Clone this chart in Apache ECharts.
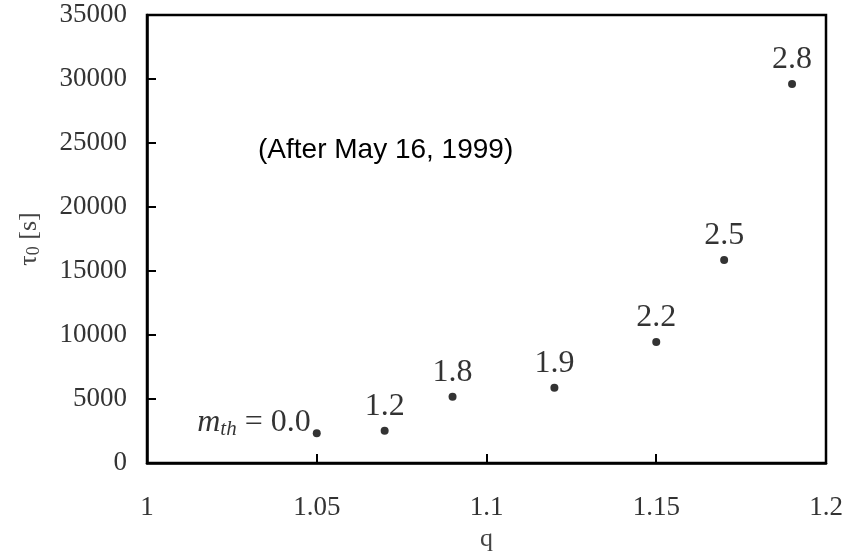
<!DOCTYPE html>
<html>
<head>
<meta charset="utf-8">
<script src="https://cdn.jsdelivr.net/npm/echarts@6/dist/echarts.min.js"></script>
<style>html,body{margin:0;padding:0;background:#fff;}#c{width:845px;height:555px;}</style>
</head>
<body>
<div id="c"></div>
<script>
const qValues = [1.05, 1.07, 1.09, 1.12, 1.15, 1.17, 1.19];
const tauValues = [2320, 2520, 5180, 5880, 9450, 15860, 29610];
const mthLabels = ['0.0', '1.2', '1.8', '1.9', '2.2', '2.5', '2.8'];
const xAxisRange = [1, 1.2, 0.05];
const yAxisRange = [0, 35000, 5000];
const noteText = '(After May 16, 1999)';

const serif = 'Liberation Serif';
const chart = echarts.init(document.getElementById('c'), null, {renderer: 'canvas'});

const data = qValues.map((q, i) => {
  const item = {value: [q, tauValues[i]]};
  if (i === 0) {
    item.label = {
      show: true,
      position: 'left',
      distance: 2,
      offset: [0, -11],
      formatter: '{m|m}{sub|th}{eq| = ' + mthLabels[i] + '}',
      rich: {
        m: {fontFamily: serif, fontStyle: 'italic', fontSize: 32, color: '#000'},
        sub: {fontFamily: serif, fontStyle: 'italic', fontSize: 21, color: '#000', padding: [14, 0, 0, 0]},
        eq: {fontFamily: serif, fontSize: 32, color: '#000'}
      }
    };
  } else {
    item.label = {show: true, position: 'top', distance: 4, formatter: mthLabels[i]};
  }
  return item;
});

chart.setOption({
  backgroundColor: '#fff',
  animation: false,
  grid: {left: 147, right: 19, top: 15, bottom: 92, outerBoundsMode: 'none', containLabel: false,
    show: true, borderColor: '#000', borderWidth: 2.5, backgroundColor: 'transparent'},
  xAxis: {
    type: 'value', min: xAxisRange[0], max: xAxisRange[1], interval: xAxisRange[2],
    name: 'q', nameLocation: 'middle', nameGap: 62,
    nameTextStyle: {fontFamily: serif, fontSize: 26, color: '#444'},
    axisLine: {show: true, onZero: false, lineStyle: {color: '#000', width: 2.5}},
    axisTick: {show: true, inside: true, length: 9, lineStyle: {color: '#000', width: 2}},
    axisLabel: {fontFamily: serif, fontSize: 27, color: '#333', margin: 31, formatter: v => String(+v.toFixed(2))},
    splitLine: {show: false}
  },
  yAxis: {
    type: 'value', min: yAxisRange[0], max: yAxisRange[1], interval: yAxisRange[2],
    name: 'τ{sub|0} [s]', nameLocation: 'middle', nameGap: 104,
    nameTextStyle: {fontFamily: serif, fontSize: 26, color: '#444',
      rich: {sub: {fontFamily: serif, fontSize: 18, color: '#444', padding: [9, 0, 0, 0]}}},
    axisLine: {show: true, lineStyle: {color: '#000', width: 2.5}},
    axisTick: {show: true, inside: true, length: 9, lineStyle: {color: '#000', width: 2}},
    axisLabel: {fontFamily: serif, fontSize: 27, color: '#333', margin: 20, formatter: v => String(v)},
    splitLine: {show: false}
  },
  series: [{
    type: 'scatter',
    symbol: 'circle',
    symbolSize: 8,
    itemStyle: {color: '#000'},
    label: {fontFamily: serif, fontSize: 32, color: '#000'},
    data: data
  }],
  graphic: [{
    type: 'text', left: 258, top: 136,
    style: {text: noteText, font: '28px "Liberation Sans"', fill: '#000'}
  }]
});
</script>
</body>
</html>
